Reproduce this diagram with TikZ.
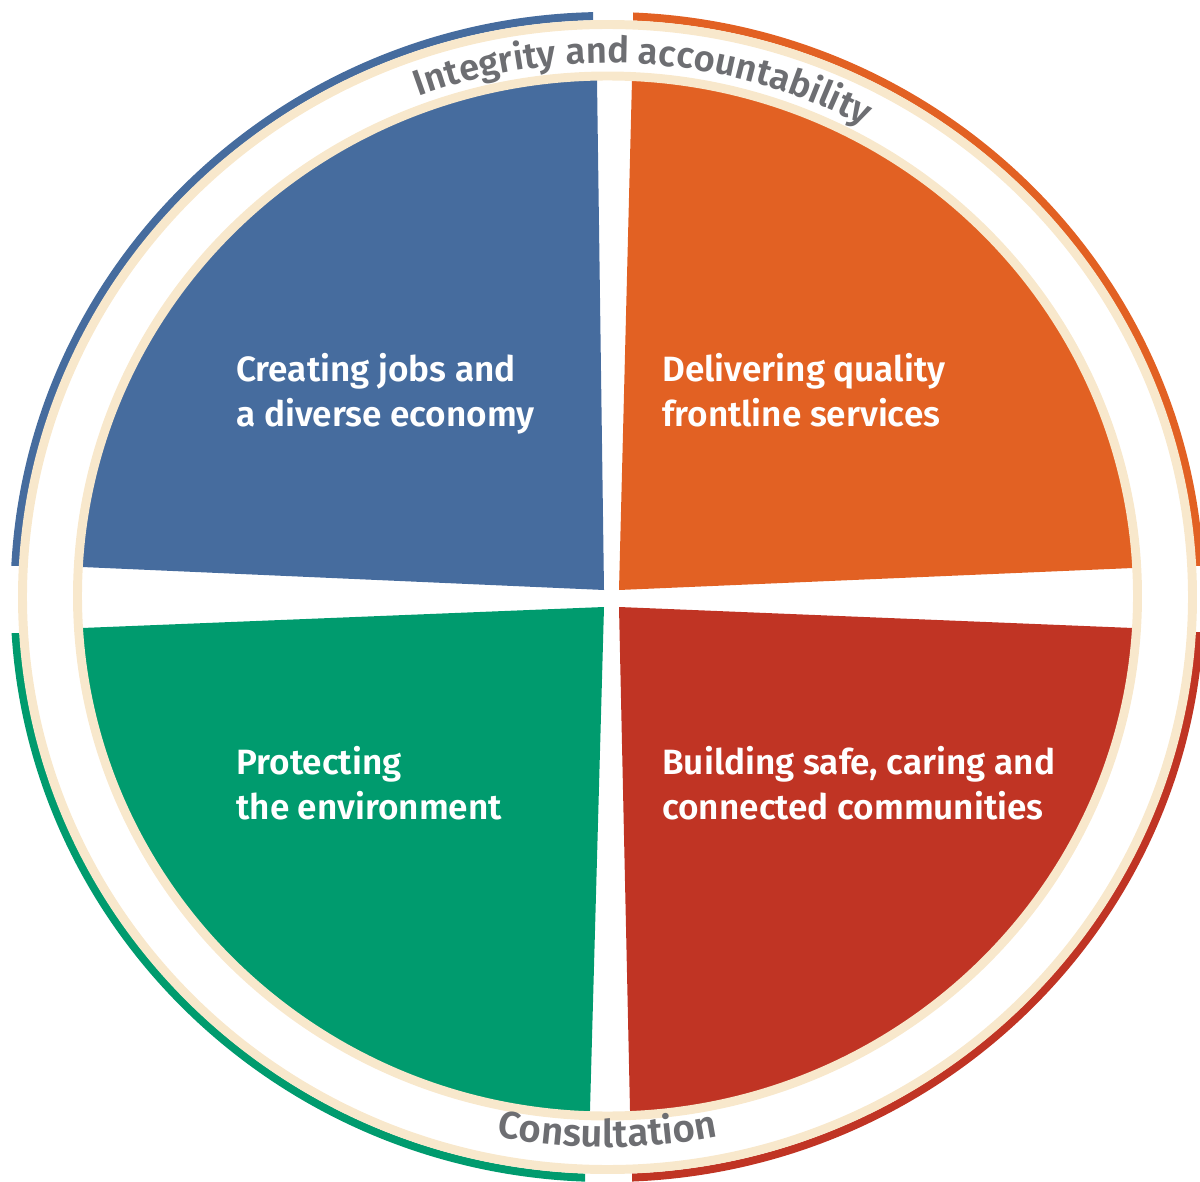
\documentclass[tikz,border=0pt]{standalone}
\usepackage{fontspec}
\setmainfont{Fira Sans}[BoldFont={Fira Sans SemiBold}]
\usetikzlibrary{calc,decorations.text}
\definecolor{jobsblue}{HTML}{466C9E}
\definecolor{serviceorange}{HTML}{E26123}
\definecolor{envgreen}{HTML}{009B6E}
\definecolor{commred}{HTML}{C03424}
\definecolor{ringcream}{HTML}{F8E8CC}
\definecolor{labelgrey}{HTML}{6D6E72}
\tikzset{quarter label/.style={anchor=base west, align=left, inner sep=0pt,
    text=white, font=\bfseries\fontsize{20}{25.2}\selectfont},
  cream ring/.style={draw=ringcream, line width=5.1pt},
  rim/.style={line width=4.6pt}}

\begin{document}
\begin{tikzpicture}[x=0.02cm, y=-0.02cm]
\useasboundingbox (0,0) rectangle (1200,1182);
\coordinate (c) at (607.5,596);
\coordinate (o) at (607.5,597);
% corner and rim ends of each quarter
\coordinate (bc) at (604,590); \coordinate (bt) at (597,80); \coordinate (bl) at (82,567);
\coordinate (oc) at (619,590); \coordinate (ot) at (632,80); \coordinate (or) at (1133,568);
\coordinate (gc) at (604,607); \coordinate (gl) at (82,628); \coordinate (gb) at (590,1110);
\coordinate (rc) at (619,607); \coordinate (rr) at (1133,628); \coordinate (rb) at (630,1110);
\begin{scope}
  \clip (c) ellipse [x radius=530, y radius=520];
  \fill[jobsblue] (bc) -- ($(bc)!1.4!(bt)$) -- (-100,-100) -- ($(bc)!1.4!(bl)$) -- cycle;
  \fill[serviceorange] (oc) -- ($(oc)!1.4!(ot)$) -- (1300,-100) -- ($(oc)!1.4!(or)$) -- cycle;
  \fill[envgreen] (gc) -- ($(gc)!1.4!(gl)$) -- (-100,1300) -- ($(gc)!1.4!(gb)$) -- cycle;
  \fill[commred] (rc) -- ($(rc)!1.4!(rr)$) -- (1300,1300) -- ($(rc)!1.4!(rb)$) -- cycle;
\end{scope}
% coloured rim, cut into quarters
\foreach \col/\xa/\ya/\xb/\yb in {jobsblue/0/0/593/565, serviceorange/633/0/1200/565,
    commred/632/632/1200/1182, envgreen/0/633/585/1182}{
  \begin{scope}
    \clip (\xa,\ya) rectangle (\xb,\yb);
    \draw[rim, \col] (o) ellipse [x radius=593, y radius=581];
  \end{scope}
}
\draw[cream ring] (c) ellipse [x radius=530, y radius=520];
\draw[cream ring] (o) ellipse [x radius=585, y radius=572.5];

\node[quarter label] (jobs) at (236,426) {Creating jobs and\\a diverse economy};
\node[quarter label] (services) at (662,426) {Delivering quality\\frontline services};
\node[quarter label] (environment) at (236,819) {Protecting\\the environment};
\node[quarter label] (communities) at (662,819) {Building safe, caring and\\connected communities};

\path[decorate, decoration={text along path, text align=center,
    text={|\color{labelgrey}\bfseries\fontsize{20.7}{22}\selectfont|Integrity and accountability}}]
  (c) ++(204:543 and 533) arc[start angle=204, end angle=344, x radius=543, y radius=533];
\path[decorate, decoration={text along path, text align=center,
    text={|\color{labelgrey}\bfseries\fontsize{21.8}{22}\selectfont|Consultation}}]
  (c) ++(150:561 and 551) arc[start angle=150, end angle=30, x radius=561, y radius=551];
\end{tikzpicture}
\end{document}
